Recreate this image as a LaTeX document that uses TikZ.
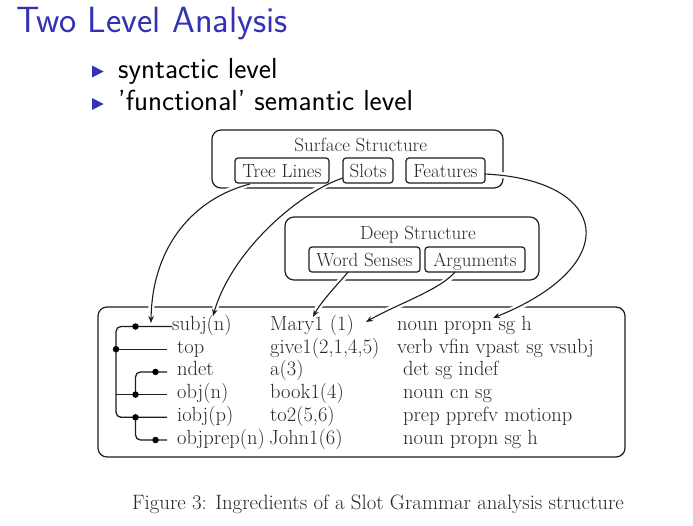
\documentclass[tikz,border=0pt]{standalone}
\usepackage{fontspec}
\usetikzlibrary{arrows.meta}
\definecolor{beamerblue}{RGB}{51,51,178}
\definecolor{ink}{RGB}{30,30,30}
\definecolor{txt}{RGB}{40,40,40}
\begin{document}
\begin{tikzpicture}[x=1pt,y=-1pt,
  cell/.style={font=\fontsize{20.5}{24}\selectfont, text=txt, inner sep=0pt, anchor=base west},
  boxlabel/.style={font=\fontsize{19}{22}\selectfont, text=txt, inner sep=0pt, anchor=base},
  outerbox/.style={draw=ink, line width=1.2pt, rounded corners=9pt, inner sep=0pt},
  innerbox/.style={draw=ink, line width=1.2pt, rounded corners=3pt, font=\fontsize{19}{22}\selectfont, text=txt, inner sep=0pt, text height=13pt, text depth=0pt, minimum height=25pt},
  tree/.style={draw=ink, line width=1.3pt},
  dot/.style={circle, fill=black, inner sep=0pt, minimum size=6.5pt},
  arr/.style={draw=ink, line width=1.1pt, -{Stealth[length=7pt,width=5.5pt]}},
  halo/.style={draw=white, line width=6pt, shorten >=7pt, shorten <=4pt},
  bullet/.style={anchor=base west, inner sep=0pt, font=\sffamily\fontsize{29}{34}\selectfont, text=black}
]
\useasboundingbox (0,0) rectangle (693,525);
\fill[white] (0,0) rectangle (693,525);

% title and bullets
\node[anchor=base west, inner sep=0pt, font=\sffamily\fontsize{36.5}{42}\selectfont, text=beamerblue] (title) at (16,32) {Two Level Analysis};
\fill[beamerblue] (92,65.5) -- (103.5,71.5) -- (92,77.5) -- cycle;
\fill[beamerblue] (92,98) -- (103.5,104) -- (92,110) -- cycle;
\node[bullet] (b1) at (118,78) {syntactic level};
\node[bullet] (b2) at (118,110) {'functional' semantic level};

% outer boxes
\node[outerbox, minimum width=291pt, minimum height=58pt] (surf) at (357.5,159) {};
\node[outerbox, minimum width=254pt, minimum height=63pt] (deep) at (412,248.5) {};
\node[outerbox, minimum width=527pt, minimum height=150pt] (main) at (361.5,382) {};

% connector end points
\coordinate (a1s) at (250,184);  \coordinate (a1e) at (151,323);
\coordinate (a2s) at (343,178);  \coordinate (a2e) at (213,316);
\coordinate (a3s) at (485,174);  \coordinate (a3e) at (493,318);
\coordinate (a4s) at (348,272);  \coordinate (a4e) at (313,317);
\coordinate (a5s) at (455,272);  \coordinate (a5e) at (366,322);

% halos (gaps in box lines)
\draw[halo] (a1s) .. controls (195,198) and (152,245) .. (a1e);
\draw[halo] (a2s) .. controls (300,192) and (232,250) .. (a2e);
\draw[halo] (a3s) .. controls (610,180) and (625,265) .. (a3e);
\draw[halo] (a4s) .. controls (340,282) and (322,300) .. (a4e);
\draw[halo] (a5s) .. controls (440,290) and (395,305) .. (a5e);

% labels and inner boxes
\node[boxlabel] (surflab) at (360.8,151.7) {Surface Structure};
\node[innerbox, minimum width=94pt] (treelines) at (282,170.5) {Tree Lines};
\node[innerbox, minimum width=50pt] (slots) at (368,170.5) {Slots};
\node[innerbox, minimum width=79pt] (features) at (445.5,170.5) {Features};
\node[boxlabel] (deeplab) at (418,239.3) {Deep Structure};
\node[innerbox, minimum width=111pt] (senses) at (364.5,259.5) {Word Senses};
\node[innerbox, minimum width=100pt] (arguments) at (475,259.5) {Arguments};

% connectors
\draw[arr] (a1s) .. controls (195,198) and (152,245) .. (a1e);
\draw[arr] (a2s) .. controls (300,192) and (232,250) .. (a2e);
\draw[arr] (a3s) .. controls (610,180) and (625,265) .. (a3e);
\draw[arr] (a4s) .. controls (340,282) and (322,300) .. (a4e);
\draw[arr] (a5s) .. controls (440,290) and (395,305) .. (a5e);

% tree lines
\coordinate (e1) at (172,326.5);
\coordinate (e2) at (167,349.2);
\coordinate (e3) at (167,371.9);
\coordinate (e4) at (167,394.6);
\coordinate (e5) at (167,417.3);
\coordinate (e6) at (167,440);
\draw[tree, rounded corners=5pt] (e1) -- (116,326.5) -- (116,417.3) -- (e5);
\draw[tree] (116,349.2) -- (e2);
\draw[tree] (116,394.6) -- (e4);
\draw[tree, rounded corners=5pt] (e3) -- (135.5,371.9) -- (135.5,394.6);
\draw[tree, rounded corners=5pt] (135.5,417.3) -- (135.5,440) -- (e6);
\node[dot] (d1) at (135.5,326.5) {};
\node[dot] (d2) at (116,349.2) {};
\node[dot] (d3) at (155.5,371.9) {};
\node[dot] (d4) at (135.5,394.6) {};
\node[dot] (d5) at (135.5,417.3) {};
\node[dot] (d6) at (155.5,440) {};

% table rows
\node[cell] (s1) at (172,330.5) {subj(n)};
\node[cell] (s2) at (177,353.2) {top};
\node[cell] (s3) at (177,375.9) {ndet};
\node[cell] (s4) at (177,398.6) {obj(n)};
\node[cell] (s5) at (177,421.3) {iobj(p)};
\node[cell] (s6) at (177,444) {objprep(n)};
\node[cell] (w1) at (270,330.5) {Mary1 (1)};
\node[cell] (w2) at (270,353.2) {give1(2,1,4,5)};
\node[cell] (w3) at (270,375.9) {a(3)};
\node[cell] (w4) at (270,398.6) {book1(4)};
\node[cell] (w5) at (270,421.3) {to2(5,6)};
\node[cell] (w6) at (269,444) {John1(6)};
\node[cell] (f1) at (397,330.5) {noun propn sg h};
\node[cell] (f2) at (397,353.2) {verb vfin vpast sg vsubj};
\node[cell] (f3) at (403,375.9) {det sg indef};
\node[cell] (f4) at (403,398.6) {noun cn sg};
\node[cell] (f5) at (403,421.3) {prep pprefv motionp};
\node[cell] (f6) at (403,444) {noun propn sg h};

% caption
\node[cell, font=\fontsize{20.8}{24}\selectfont] (caption) at (132,509) {Figure 3: Ingredients of a Slot Grammar analysis structure};
\end{tikzpicture}
\end{document}
